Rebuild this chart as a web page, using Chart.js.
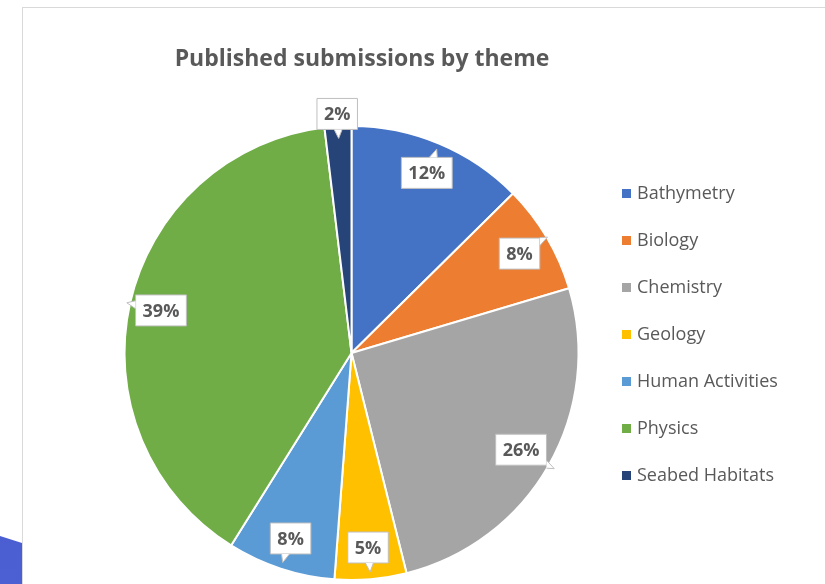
<!DOCTYPE html>
<html>
<head>
<meta charset="utf-8">
<script src="https://cdn.jsdelivr.net/npm/chart.js@4"></script>
<style>
  html, body { margin: 0; padding: 0; background: #ffffff; }
  body { width: 825px; height: 584px; position: relative; overflow: hidden; font-family: "Open Sans", sans-serif; }
  #frame { position: absolute; left: 22px; top: 7px; width: 820px; height: 600px; border-left: 1px solid #d9d9d9; border-top: 1px solid #d9d9d9; }
  #slideShape { position: absolute; left: 0; top: 0; width: 22px; height: 584px; background: linear-gradient(180deg, #3a4cc0, #4c60d4); clip-path: polygon(0 536px, 22px 543px, 22px 584px, 0 584px); }
  #chartTitle { position: absolute; left: 0; width: 724px; top: 41px; text-align: center; font-weight: 700; font-size: 23px; color: #595959; }
  #legend { position: absolute; left: 622px; top: 0; }
  .item { position: absolute; left: 0; white-space: nowrap; font-size: 18px; color: #595959; height: 24px; line-height: 24px; }
  .box { display: inline-block; width: 9px; height: 9px; margin-right: 6px; vertical-align: 1px; }
  #wrap { position: absolute; left: 0; top: 0; width: 825px; height: 584px; }
</style>
</head>
<body>
<div id="slideShape"></div>
<div id="frame"></div>
<div id="wrap"><canvas id="pieChart"></canvas></div>
<div id="chartTitle">Published submissions by theme</div>
<div id="legend"></div>
<script>
// Published submissions by theme - pie with callout labels

const themes = ['Bathymetry', 'Biology', 'Chemistry', 'Geology', 'Human Activities', 'Physics', 'Seabed Habitats'];
const shares = [12.6, 7.8, 25.7, 5.1, 7.7, 39.2, 1.9];
const shareLabels = ['12%', '8%', '26%', '5%', '8%', '39%', '2%'];
const themeColors = ['#4472C4', '#ED7D31', '#A5A5A5', '#FFC000', '#5B9BD5', '#70AD47', '#264478'];

// Legend on the right
const legendEl = document.getElementById('legend');
themes.forEach((name, i) => {
    const row = document.createElement('div');
    row.className = 'item';
    row.style.top = (180 + i * 47) + 'px';
    row.innerHTML = `<span class="box" style="background:${themeColors[i]}"></span>${name}`;
    legendEl.appendChild(row);
});

// Draw the white callout boxes with a small pointer
const calloutPlugin = {
    id: 'callouts',
    afterDatasetsDraw(chart) {
        const ctx = chart.ctx;
        const meta = chart.getDatasetMeta(0);
        ctx.save();
        ctx.font = 'bold 18px "Open Sans", sans-serif';
        ctx.textAlign = 'center';
        ctx.textBaseline = 'middle';
        meta.data.forEach((arc, i) => {
            const p = arc.getProps(['x', 'y', 'startAngle', 'endAngle', 'outerRadius'], true);
            const mid = (p.startAngle + p.endAngle) / 2;
            const small = shares[i] < 3;
            const r = p.outerRadius * (small ? 1.055 : 0.86);
            const cx = p.x + Math.cos(mid) * r;
            const cy = p.y + Math.sin(mid) * r;
            const text = shareLabels[i];
            const w = ctx.measureText(text).width + 14;
            const h = 31;
            const dx = Math.cos(small ? mid + Math.PI : mid);
            const dy = Math.sin(small ? mid + Math.PI : mid);
            // exit point of the ray on the box edge
            const tx = Math.abs(dx) > 1e-6 ? (w / 2) / Math.abs(dx) : Infinity;
            const ty = Math.abs(dy) > 1e-6 ? (h / 2) / Math.abs(dy) : Infinity;
            const t = Math.min(tx, ty);
            const ex = cx + dx * t, ey = cy + dy * t;
            const left = cx - w / 2, top = cy - h / 2;

            ctx.beginPath();
            ctx.rect(left, top, w, h);
            ctx.fillStyle = '#ffffff';
            ctx.fill();
            ctx.strokeStyle = '#bfbfbf';
            ctx.lineWidth = 1;
            ctx.stroke();

            // pointer
            ctx.beginPath();
            if (tx < ty) {
                const sx = dx > 0 ? left + w : left;
                ctx.moveTo(sx, ey - 4);
                ctx.lineTo(ex + dx * 9, ey + dy * 9);
                ctx.lineTo(sx, ey + 4);
            } else {
                const sy = dy > 0 ? top + h : top;
                ctx.moveTo(ex - 4, sy);
                ctx.lineTo(ex + dx * 9, ey + dy * 9);
                ctx.lineTo(ex + 4, sy);
            }
            ctx.fillStyle = '#ffffff';
            ctx.fill();
            ctx.stroke();

            ctx.fillStyle = '#595959';
            ctx.fillText(text, cx, cy + 1);
        });
        ctx.restore();
    }
};

new Chart(document.getElementById('pieChart'), {
    type: 'pie',
    data: {
        labels: themes,
        datasets: [{
            data: shares,
            backgroundColor: themeColors,
            borderColor: '#ffffff',
            borderWidth: 2
        }]
    },
    plugins: [calloutPlugin],
    options: {
        responsive: true,
        maintainAspectRatio: false,
        animation: false,
        layout: {
            padding: { left: 123, right: 245, top: 125, bottom: 3 }
        },
        plugins: {
            legend: { display: false },
            tooltip: { enabled: false },
            title: { display: false }
        }
    }
});
</script>
</body>
</html>
